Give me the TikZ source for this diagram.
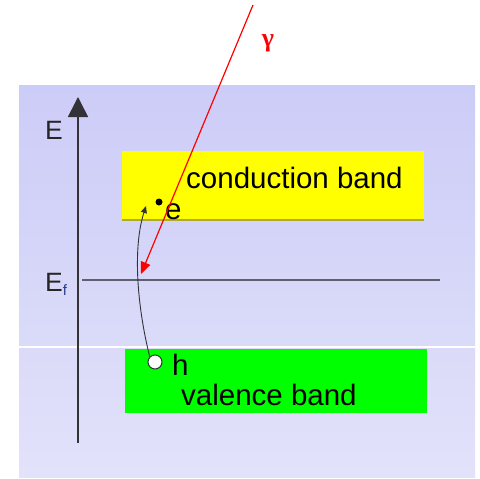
\documentclass[tikz,border=0pt]{standalone}
\usepackage{fontspec}
\setmainfont{Liberation Sans}
\newfontfamily\gfont{Liberation Serif}
\usetikzlibrary{arrows.meta,shadings}
\definecolor{paneltop}{RGB}{204,204,248}
\definecolor{panelbot}{RGB}{226,226,250}
\definecolor{bandyellow}{RGB}{255,255,0}
\definecolor{bandgreen}{RGB}{0,255,0}
\definecolor{axisgray}{RGB}{50,50,55}
\definecolor{fermigray}{RGB}{95,95,110}
\definecolor{subblue}{RGB}{40,60,140}
\tikzset{
  bandtext/.style={anchor=base west,inner sep=0pt,font=\fontsize{29.5}{34}\selectfont},
  axlabel/.style={anchor=base west,inner sep=0pt,font=\fontsize{26.5}{30}\selectfont,text=black!85},
  carrier/.style={circle,inner sep=0pt,minimum size=14pt,draw=axisgray,line width=1pt,fill=white},
  electron/.style={circle,inner sep=0pt,minimum size=7pt,fill=black},
  transition/.style={draw=axisgray,line width=0.9pt,-{Triangle[length=7pt,width=6pt]}},
  photon/.style={draw=red,line width=1.2pt,-{Triangle[length=12pt,width=10pt]}}
}
\begin{document}
\begin{tikzpicture}[x=1pt,y=-1pt]
\useasboundingbox (0,0) rectangle (480,479);
% panel
\shade[top color=paneltop,bottom color=panelbot] (19,85) rectangle (475,477);
\draw[white,line width=1.2pt] (19,347) -- (475,347);
% bands
\node[draw=none,fill=bandyellow,inner sep=0pt,minimum width=302pt,minimum height=69pt,anchor=north west] (cb) at (122,151) {};
\draw[olive!70,line width=1.5pt] (122,220) -- (424,220);
\node[draw=none,fill=bandgreen,inner sep=0pt,minimum width=302pt,minimum height=64pt,anchor=north west] (vb) at (125,349) {};
% Fermi level
\coordinate (fl) at (82,280);
\coordinate (fr) at (440,280);
\draw[fermigray,line width=1.5pt] (fl) -- (fr);
% energy axis
\coordinate (ab) at (78,443);
\coordinate (at) at (78,97);
\draw[axisgray,line width=1.6pt,-{Triangle[length=20pt,width=20pt]}] (ab) -- (at);
% labels
\node[axlabel] (elab) at (45,139) {E};
\node[axlabel] (eflab) at (45,291) {E\textcolor{subblue}{\fontsize{15}{18}\selectfont\raisebox{-4pt}{f}}};
\node[bandtext] (cbt) at (186,188) {conduction band};
\node[bandtext] (vbt) at (181,405) {valence band};
\node[bandtext] (elt) at (165,219) {e};
\node[bandtext] (hlt) at (172,375) {h};
% carriers
\node[electron] (el) at (159,202) {};
\node[carrier] (hole) at (155,362) {};
\coordinate (etip) at (146,206);
\draw[transition] (hole.north west) .. controls (138,310) and (132,250) .. (etip);
% photon
\coordinate (gs) at (253,5);
\coordinate (ge) at (141,274);
\draw[photon] (gs) -- (ge);
\node[inner sep=0pt,text=red,font=\gfont\bfseries\fontsize{26}{30}\selectfont] (gam) at (268,43) {γ};
\end{tikzpicture}
\end{document}
